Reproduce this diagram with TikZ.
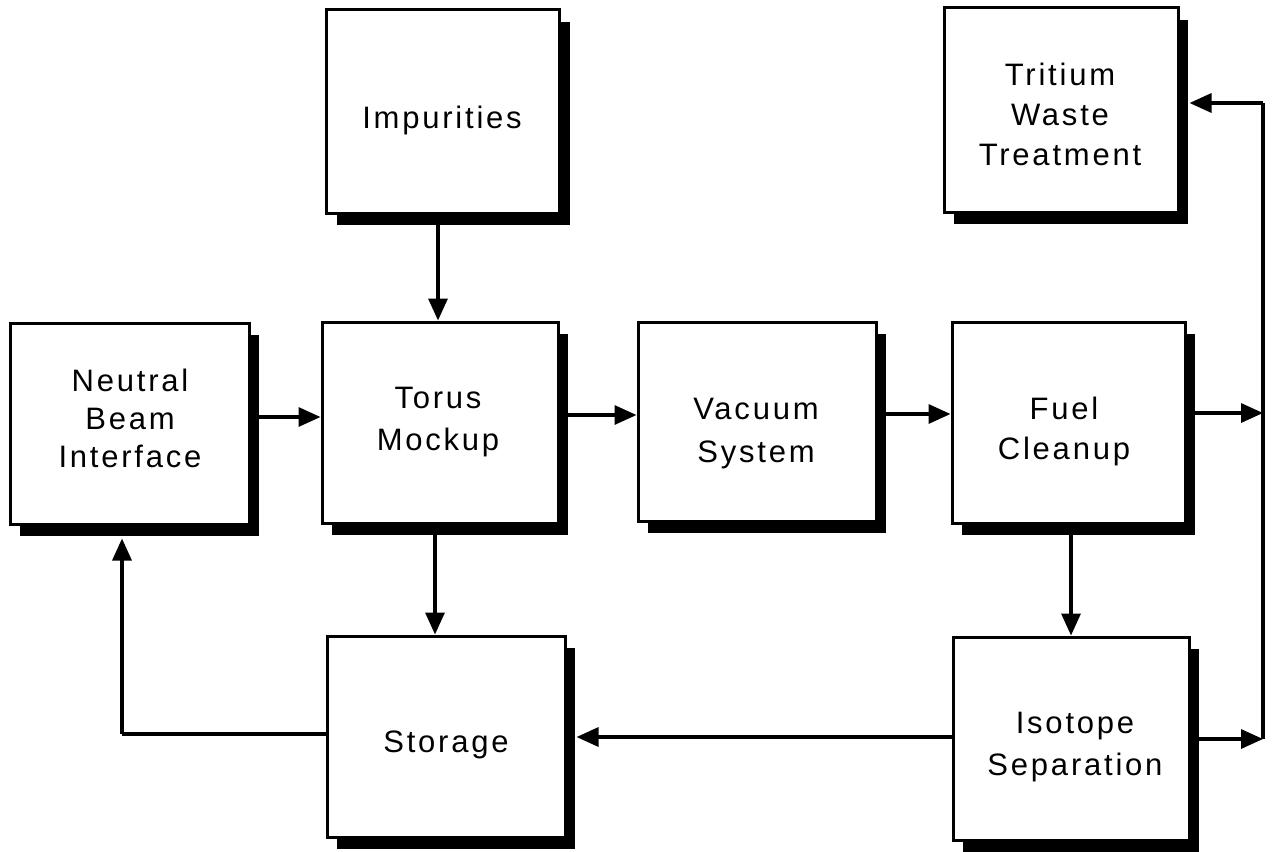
\documentclass[tikz,border=0pt]{standalone}
\usepackage{fontspec}
\setmainfont{Liberation Sans}[LetterSpace=9]
\usetikzlibrary{arrows.meta,shadows,calc}
\begin{document}
\begin{tikzpicture}[x=1pt,y=-1pt,
  box/.style={draw, fill=white, line width=3pt, inner sep=0pt,
    drop shadow={shadow xshift=10pt, shadow yshift=-12pt, fill=black, opacity=1}},
  txt/.style={align=center, inner sep=0pt, font=\fontsize{31}{41}\selectfont},
  conn/.style={line width=3.3pt},
  arr/.style={conn, -{Triangle[length=22pt,width=19pt]}}]
\useasboundingbox (0,0) rectangle (1273,851);
\node[box, minimum width=233pt, minimum height=203pt] (imp) at (443,111.5) {};
\node[box, minimum width=234pt, minimum height=204pt] (trit) at (1061,110) {};
\node[box, minimum width=239pt, minimum height=201pt] (nbi) at (129.5,423.5) {};
\node[box, minimum width=236pt, minimum height=201pt] (torus) at (440,422.5) {};
\node[box, minimum width=238pt, minimum height=199pt] (vac) at (757,421.5) {};
\node[box, minimum width=233pt, minimum height=201pt] (fuel) at (1068.5,422.5) {};
\node[box, minimum width=238pt, minimum height=201pt] (stor) at (446,736.5) {};
\node[box, minimum width=236pt, minimum height=203pt] (iso) at (1071,738.5) {};
% texts
\node[txt] (imp-t) at (442,120.5) {Impurities};
\node[txt, font=\fontsize{31}{40}\selectfont] (trit-t) at (1060,114) {Tritium\\Waste\\Treatment};
\node[txt, font=\fontsize{31}{38}\selectfont] (nbi-t) at (130,418) {Neutral\\Beam\\Interface};
\node[txt, font=\fontsize{31}{42}\selectfont] (torus-t) at (438,422) {Torus\\Mockup};
\node[txt, font=\fontsize{31}{43}\selectfont] (vac-t) at (756,433.5) {Vacuum\\System};
\node[txt, font=\fontsize{31}{40}\selectfont] (fuel-t) at (1064,431) {Fuel\\Cleanup};
\node[txt] (stor-t) at (446,744.5) {Storage};
\node[txt, font=\fontsize{31}{42}\selectfont] (iso-t) at (1075,747) {Isotope\\Separation};
\coordinate (rt) at (1263,103);
\coordinate (rm) at (1263,413);
\coordinate (rb) at (1263,739);
\coordinate (lb) at (122,734);
% vertical arrows
\draw[arr] (imp.south -| 438,0) -- (torus.north -| 438,0);
\draw[arr] (torus.south -| 435,0) -- (stor.north -| 435,0);
\draw[arr] (fuel.south -| 1071,0) -- (iso.north -| 1071,0);
% horizontal arrows
\draw[arr] (nbi.east |- 0,417) -- (torus.west |- 0,417);
\draw[arr] (torus.east |- 0,415) -- (vac.west |- 0,415);
\draw[arr] (vac.east |- 0,414) -- (fuel.west |- 0,414);
\draw[arr] (fuel.east |- rm) -- (rm);
\draw[arr] (iso.east |- rb) -- (rb);
\draw[conn] (rb) -- (rt);
\draw[arr] (rt) -- ($(trit.east |- rt)+(10,0)$);
\draw[arr] (iso.west |- 0,737) -- ($(stor.east |- 0,737)+(10,0)$);
\draw[conn] (stor.west |- lb) -- (lb);
\draw[arr] (lb) -- ($(nbi.south -| lb)+(0,13)$);
\end{tikzpicture}
\end{document}
